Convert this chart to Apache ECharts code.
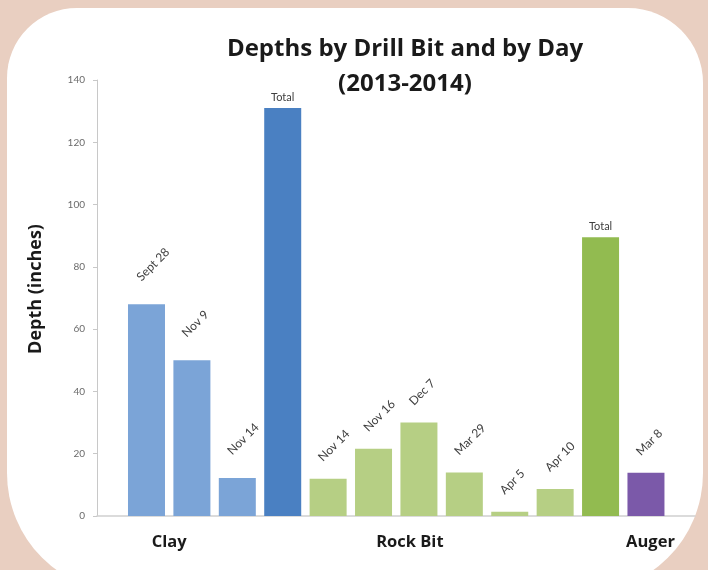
<!DOCTYPE html>
<html><head><meta charset="utf-8">
<script src="https://cdn.jsdelivr.net/npm/echarts@6/dist/echarts.min.js"></script>
<style>
html,body{margin:0;padding:0;width:708px;height:570px;overflow:hidden;background:#e9cfc1;}
#card{position:absolute;left:7px;top:8px;width:696px;height:585px;background:#fff;border-radius:70px 75px 120px 120px;}
#chart{position:absolute;left:0;top:0;width:708px;height:570px;}
</style></head><body>
<div id="card"></div><div id="chart"></div>
<script>
// ---- data ----
const barLabels = ['Sept 28','Nov 9','Nov 14','Total','Nov 14','Nov 16','Dec 7','Mar 29','Apr 5','Apr 10','Total','Mar 8'];
const depths    = [68, 50, 12.2, 131, 12, 21.6, 30, 14, 1.4, 8.7, 89.5, 13.9];
const barGroups = ['Clay','Clay','Clay','Clay','Rock Bit','Rock Bit','Rock Bit','Rock Bit','Rock Bit','Rock Bit','Rock Bit','Auger'];
const groupNames = ['Clay','Rock Bit','Auger'];
const yTicks = [0, 20, 40, 60, 80, 100, 120, 140];
const titleLines = ['Depths by Drill Bit and by Day', '(2013-2014)'];
const yTitle = 'Depth (inches)';

// ---- styles ----
const dayColors   = {'Clay':'#7ba4d7', 'Rock Bit':'#b6cf84', 'Auger':'#7b59a9'};
const totalColors = {'Clay':'#4a80c2', 'Rock Bit':'#92bb50', 'Auger':'#7b59a9'};
const labelDist   = {'Clay':26, 'Rock Bit':20, 'Auger':20};
const groupLabelPos = [0.5, 5.8, 11.1];
const FONT = 'Lato, "Open Sans", sans-serif';
const HFONT = '"Open Sans", Lato, sans-serif';

const seriesData = depths.map((v, i) => {
  const isTotal = barLabels[i] === 'Total';
  const g = barGroups[i];
  return {
    value: [i, v],
    itemStyle: { color: isTotal ? totalColors[g] : dayColors[g] },
    label: isTotal
      ? { rotate: 0, align: 'center', verticalAlign: 'bottom', distance: 5, offset: [0, 0], fontSize: 11 }
      : { rotate: 45, align: 'left', verticalAlign: 'middle', distance: labelDist[g], offset: [-6, -5], fontSize: 12 }
  };
});

const chart = echarts.init(document.getElementById('chart'), null, { renderer: 'canvas' });
chart.setOption({
  backgroundColor: 'transparent',
  animation: false,
  title: {
    text: titleLines.join('\n'),
    left: 400, top: 27, textAlign: 'center',
    textStyle: { fontFamily: HFONT, fontWeight: 'bold', fontSize: 24, lineHeight: 35, color: '#1a1a1a' }
  },
  grid: { left: 97, right: 13, top: 80, bottom: 54, containLabel: false },
  xAxis: [
    {
      type: 'value', min: -1.09, max: 12.08, position: 'bottom',
      axisLine: { show: true, onZero: false, lineStyle: { color: '#d0d0d0', width: 1.5 } },
      axisTick: { show: false }, axisLabel: { show: false }, splitLine: { show: false }
    },
    {
      type: 'value', min: -1.09, max: 12.08, position: 'bottom',
      axisLine: { show: false }, axisTick: { show: false }, splitLine: { show: false },
      axisLabel: {
        show: true, customValues: groupLabelPos, margin: 18,
        formatter: (v) => { const k = groupLabelPos.indexOf(v); return k >= 0 ? groupNames[k] : ''; },
        fontFamily: HFONT, fontWeight: 'bold', fontSize: 16.5, color: '#1a1a1a'
      }
    }
  ],
  yAxis: {
    type: 'value', min: yTicks[0], max: yTicks[yTicks.length - 1], interval: yTicks[1] - yTicks[0],
    name: yTitle, nameLocation: 'middle', nameGap: 52,
    nameTextStyle: { fontFamily: HFONT, fontWeight: 'bold', fontSize: 18, color: '#1a1a1a', padding: [0, 0, 0, 18] },
    axisLine: { show: true, onZero: false, lineStyle: { color: '#c8c8c8' } },
    axisTick: { show: true, length: 4, lineStyle: { color: '#c8c8c8' } },
    axisLabel: { fontFamily: FONT, fontSize: 10, color: '#6b6b6b', margin: 12 },
    splitLine: { show: false }
  },
  series: [{
    type: 'bar', xAxisIndex: 0, barWidth: 37,
    data: seriesData,
    label: {
      show: true, position: 'top',
      formatter: (p) => barLabels[p.dataIndex],
      fontFamily: FONT, color: '#404040'
    }
  }]
});
</script>
</body></html>
